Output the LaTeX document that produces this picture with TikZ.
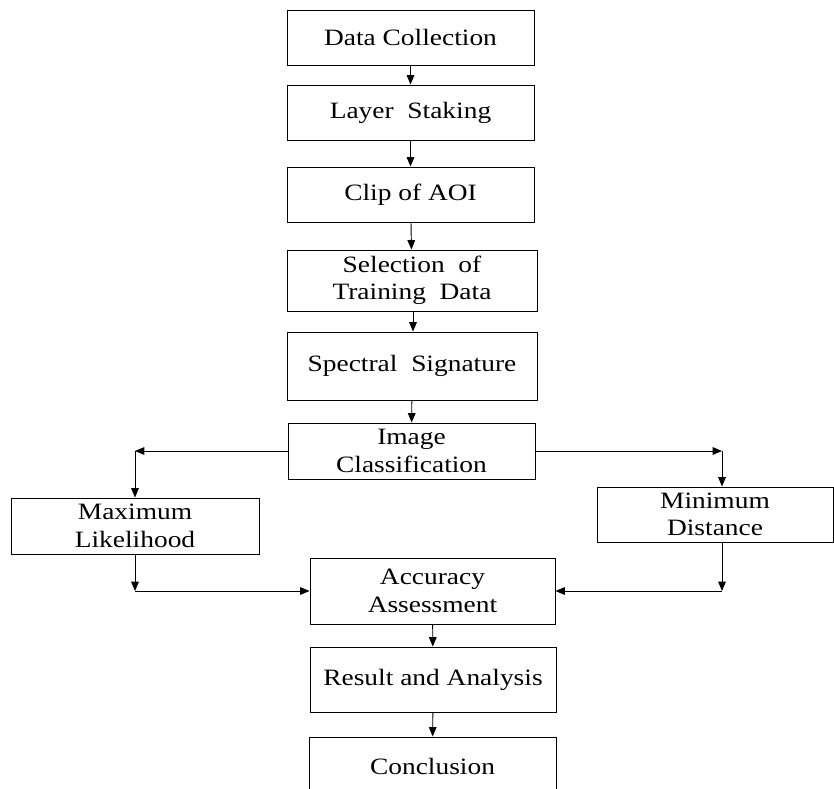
\documentclass[tikz,border=0pt]{standalone}
\usepackage{fontspec}
\setmainfont{Liberation Serif}[FakeStretch=1.17]
\usetikzlibrary{arrows.meta}
\tikzset{
  stepbox/.style={draw, line width=0.8pt, align=center, inner sep=0pt,
    font=\fontsize{20pt}{23.5pt}\selectfont},
  flow/.style={line width=0.8pt, -{Triangle[length=8pt,width=6.5pt]}},
  plain/.style={line width=0.8pt}
}
\begin{document}
\begin{tikzpicture}[x=0.03cm, y=-0.03cm]
            \useasboundingbox (0,0) rectangle (834,789);
            \clip (0,0) rectangle (834,789);
            % define boxes
            \node[stepbox, minimum width=247*0.03cm, minimum height=55*0.03cm] (collect) at (410.5, 37.5) {Data Collection};
            \node[stepbox, minimum width=247*0.03cm, minimum height=55*0.03cm] (stack) at (410.5, 112.5) {Layer\ \ Staking};
            \node[stepbox, minimum width=247*0.03cm, minimum height=55*0.03cm] (clip) at (410.5, 194.5) {Clip of AOI};
            \node[stepbox, minimum width=250*0.03cm, minimum height=61*0.03cm] (select) at (412, 280.5) {Selection\ \ of\\Training\ \ Data};
            \node[stepbox, minimum width=250*0.03cm, minimum height=68*0.03cm] (spectral) at (412, 366) {Spectral\ \ Signature};
            \node[stepbox, minimum width=247*0.03cm, minimum height=56*0.03cm] (classify) at (411.5, 451) {Image\\Classification};
            \node[stepbox, minimum width=248*0.03cm, minimum height=56*0.03cm] (maxlik) at (135, 526) {Maximum\\Likelihood};
            \node[stepbox, minimum width=236*0.03cm, minimum height=55*0.03cm] (mindist) at (715, 514.5) {Minimum\\Distance};
            \node[stepbox, minimum width=245*0.03cm, minimum height=66*0.03cm] (accuracy) at (432.5, 591) {Accuracy\\Assessment};
            \node[stepbox, minimum width=246*0.03cm, minimum height=65*0.03cm] (result) at (433, 679.5) {Result and Analysis};
            \node[stepbox, minimum width=247*0.03cm, minimum height=58*0.03cm] (conclusion) at (432.5, 766) {Conclusion};
            % define point
            \coordinate (L1) at (135, 451);
            \coordinate (R1) at (722, 451);
            \coordinate (L2) at (135, 591);
            \coordinate (R2) at (722, 591);
            % main column
            \draw[flow] (collect) -- (stack);
            \draw[flow] (stack) -- (clip);
            \draw[flow] (clip) -- (select);
            \draw[flow] (select.south -| 413,0) -- (spectral.north -| 413,0);
            \draw[flow] (spectral) -- (classify);
            % branches
            \draw[flow] (classify.west) -- (L1);
            \draw[flow] (L1) -- (maxlik.north);
            \draw[flow] (classify.east) -- (R1);
            \draw[flow] (R1) -- (R1 |- mindist.north);
            \draw[flow] (maxlik.south) -- (L2);
            \draw[flow] (L2) -- (accuracy.west);
            \draw[flow] (R1 |- mindist.south) -- (R2);
            \draw[flow] (R2) -- (accuracy.east);
            % last steps
            \draw[flow] (accuracy) -- (result);
            \draw[flow] (result) -- (conclusion);
        \end{tikzpicture}
\end{document}
